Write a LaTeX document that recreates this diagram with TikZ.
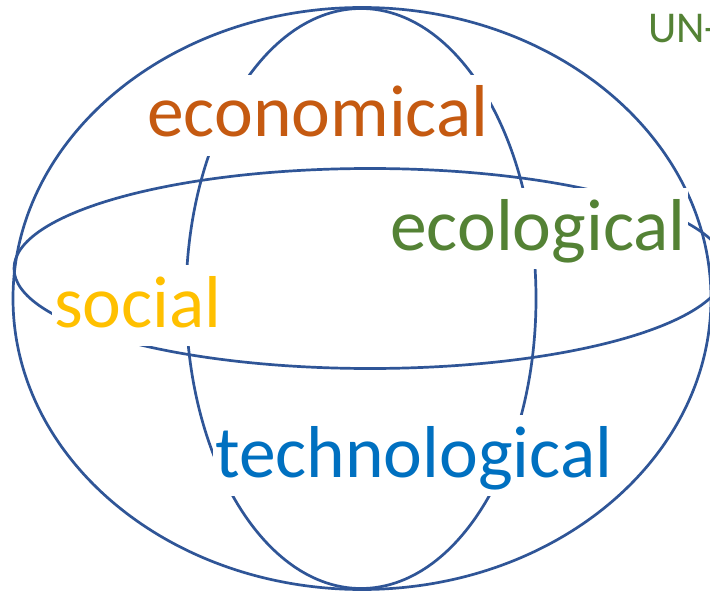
\documentclass[tikz,border=0pt]{standalone}
\usepackage{fontspec}
\newfontfamily\calibri{Carlito}
\definecolor{ringblue}{HTML}{2F5597}
\definecolor{econ}{HTML}{C55A11}
\definecolor{eco}{HTML}{548235}
\definecolor{soc}{HTML}{FFC000}
\definecolor{tech}{HTML}{0070C0}
\begin{document}
\begin{tikzpicture}[x=1pt,y=-1pt,
  ring/.style={draw=ringblue,line width=2.7pt},
  word/.style={anchor=base west,fill=white,inner xsep=2pt,inner ysep=0pt,
    text height=62pt,text depth=19pt,font=\calibri\fontsize{73.5}{80}\selectfont}]
\useasboundingbox (0,0) rectangle (710,591);
\fill[white] (0,0) rectangle (710,591);
% spheres
\draw[ring] (362,298.5) ellipse [x radius=349pt, y radius=291pt];
\draw[ring] (361,298.5) ellipse [x radius=175pt, y radius=290pt];
\draw[ring] (370,268.5) ellipse [x radius=356pt, y radius=100pt];
% labels
\node[word,text=econ] (econ) at (145,137) {economical\hspace{6pt}};
\node[word,text=eco] (eco) at (388,250) {ecological\hspace{6pt}};
\node[word,text=soc] (soc) at (52,327) {social\hspace{3pt}};
\node[word,text=tech] (tech) at (213,477) {technological\hspace{14pt}};
\node[anchor=base west,inner sep=0pt,text=eco,font=\calibri\fontsize{44}{50}\selectfont] (un) at (648,43) {UN-};
\end{tikzpicture}
\end{document}
